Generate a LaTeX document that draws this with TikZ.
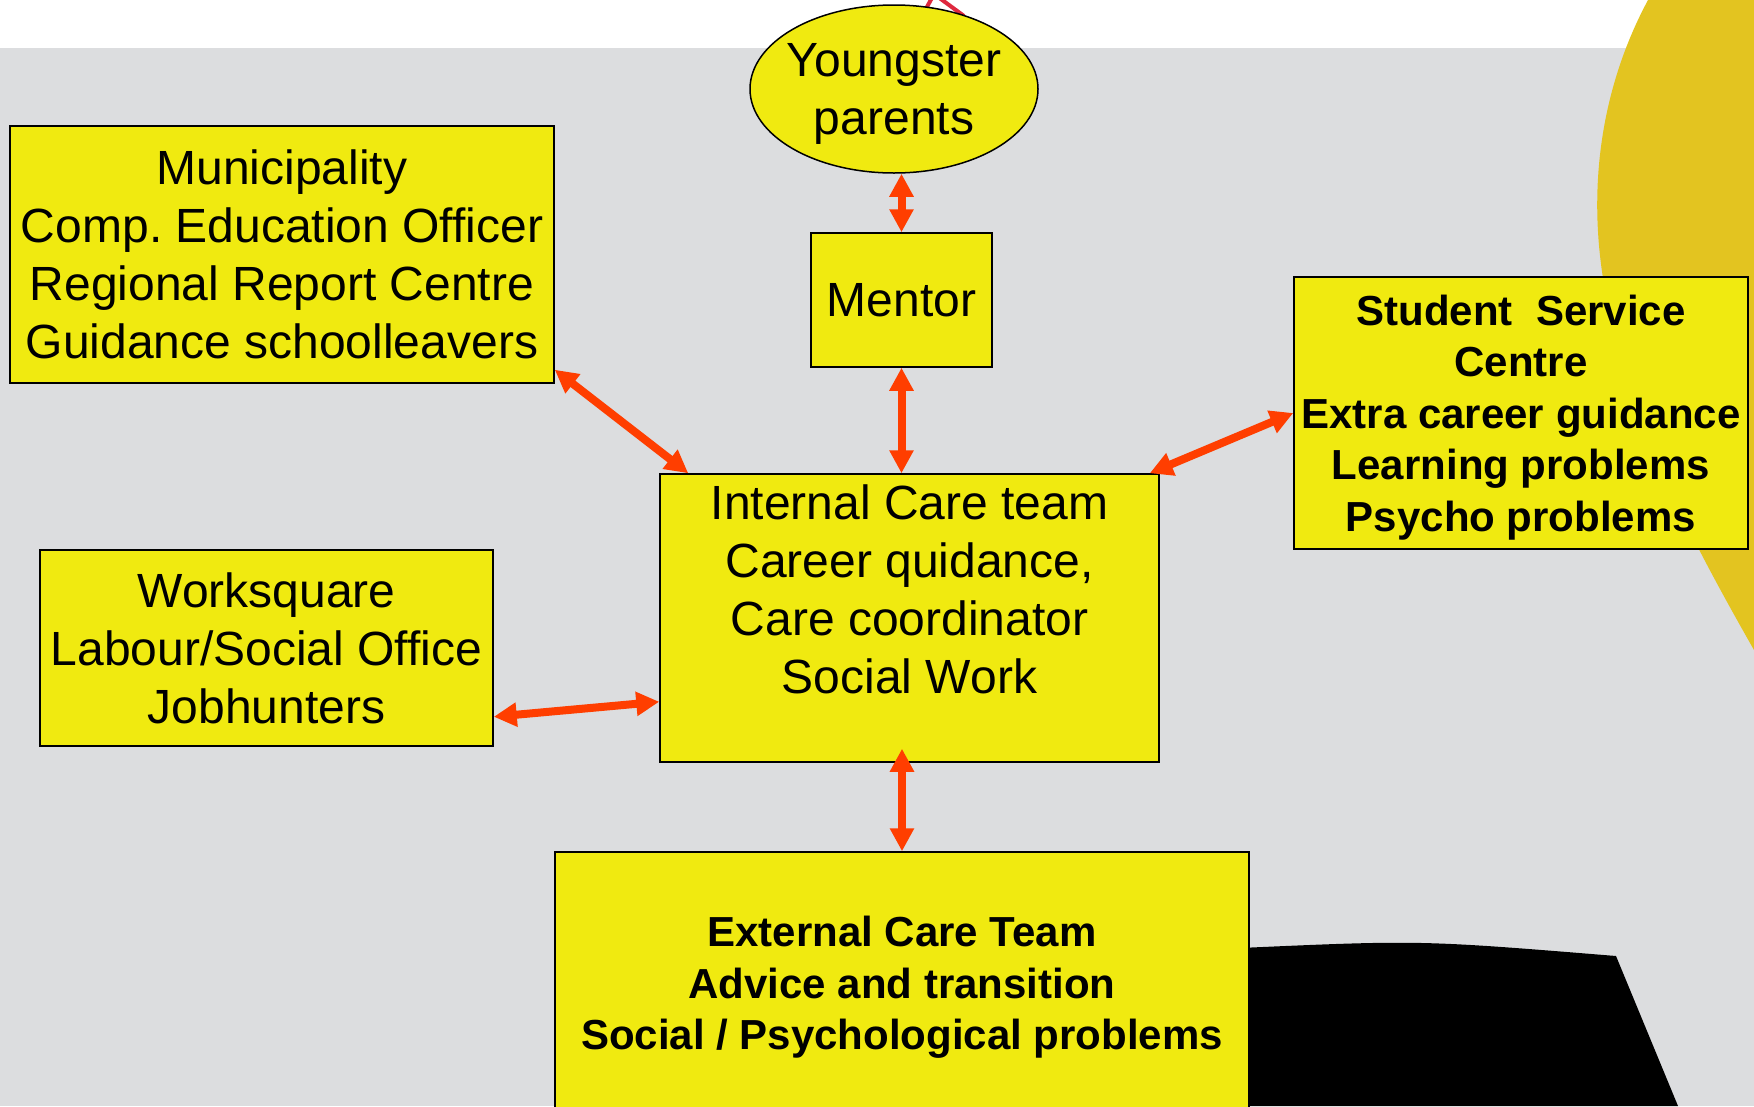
\documentclass[tikz,border=0pt]{standalone}
\usepackage{fontspec}
\setmainfont{Liberation Sans}
\usetikzlibrary{arrows.meta,shapes.geometric}
\definecolor{boxyellow}{RGB}{240,234,16}
\definecolor{linkred}{RGB}{255,62,0}
\definecolor{backgray}{RGB}{220,221,223}
\definecolor{blobgold}{RGB}{227,196,32}
\definecolor{markred}{RGB}{222,40,62}
\begin{document}
\begin{tikzpicture}[x=1pt,y=-1pt,
  box/.style={draw=black, line width=1.5pt, fill=boxyellow, inner sep=0pt, align=center,
    text depth=0pt, font=\fontsize{48}{58}\selectfont},
  boldbox/.style={box, font=\fontsize{42}{51.5}\selectfont\bfseries},
  link/.style={draw=linkred, line width=8pt, >={Triangle[length=23pt,width=23pt]}, <->}]
\useasboundingbox (0,0) rectangle (1754,1106);
% background
\fill[white] (0,0) rectangle (1754,1106);
\fill[backgray] (0,48) rectangle (1754,1106);
\fill[blobgold] (1648,0) .. controls (1605,80) and (1585,180) .. (1605,290)
  .. controls (1630,420) and (1680,520) .. (1754,650) -- (1754,0) -- cycle;
\fill[black] (1240,948) .. controls (1420,940) .. (1616,956) -- (1678,1106) -- (1240,1106) -- cycle;
\draw[markred, line width=4pt] (921,18) -- (934,-6) -- (964,16);
% nodes
\node [box, ellipse, inner xsep=-6pt, minimum width=288, minimum height=168] (parents) at (894,89) {Youngster\\parents};
\node [box, minimum width=181, minimum height=134] (mentor) at (901.5,300) {Mentor};
\node [box, minimum width=544, minimum height=257] (muni) at (282,254.5)
  {Municipality\\Comp.\ Education Officer\\Regional Report Centre\\Guidance schoolleavers};
\node [box, minimum width=499, minimum height=288] (ict) at (909.5,618)
  {Internal Care team\\Career quidance,\\ Care coordinator\\Social Work\\ ~};
\node [boldbox, minimum width=454, minimum height=272] (ssc) at (1521,413)
  {Student~ Service\\Centre\\Extra career guidance\\Learning problems\\Psycho problems};
\node [box, minimum width=453, minimum height=196] (works) at (266.5,648)
  {Worksquare\\Labour/Social Office\\Jobhunters};
\node [boldbox, minimum width=694, minimum height=262] (ect) at (902,983)
  {External Care Team\\Advice and transition\\Social / Psychological problems};
% links
\draw [link] (parents.south -| mentor.north) -- (mentor.north);
\draw [link] (mentor.south) -- (mentor.south |- ict.north);
\draw [link] ([yshift=14pt]muni.south east) -- ([xshift=29pt]ict.north west);
\draw [link] ([xshift=-10pt]ict.north east) -- (ssc.west);
\draw [link] ([yshift=30pt]works.south east) -- ([yshift=61pt]ict.south west);
\draw [link, shorten <=-14pt] (ect.north |- ict.south) -- (ect.north);
\end{tikzpicture}
\end{document}
